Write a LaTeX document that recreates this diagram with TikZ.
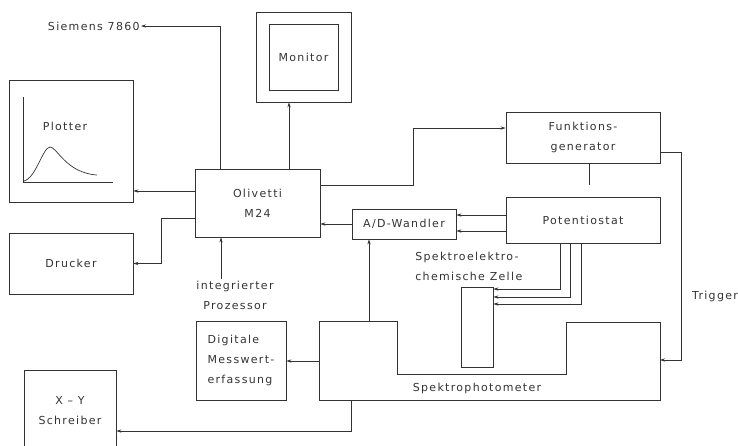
\documentclass[tikz,border=0pt]{standalone}
\usepackage{fontspec}
\setmainfont{DejaVu Sans}[LetterSpace=12]
\usetikzlibrary{arrows.meta}

\begin{document}
\begin{tikzpicture}[
  x=1pt, y=-1pt,
  line width=0.7pt, color=black!80,
  box/.style={draw, inner sep=0pt, align=center, font=\fontsize{11}{20}\selectfont},
  lbl/.style={inner sep=1pt, align=center, font=\fontsize{11}{20}\selectfont},
  >={Stealth[length=5pt,width=3.2pt]}
]
  \useasboundingbox (0,0) rectangle (738,445);

  % Rechner und Peripherie
  \node[box, minimum width=125pt, minimum height=68pt] (m24) at (257.5,203) {Olivetti\\M24};
  \node[box, minimum width=95pt, minimum height=90pt] (monitor) at (303.5,57) {};
  \node[box, minimum width=69pt, minimum height=66pt] (screen) at (303.5,57) {Monitor};
  \node[box, minimum width=124pt, minimum height=122pt] (plotter) at (71,141) {};
  \node[lbl] (plotlabel) at (65,126) {Plotter};
  \node[box, minimum width=124pt, minimum height=61pt] (drucker) at (71,263.5) {Drucker};
  \node[lbl, anchor=east] (siemens) at (141,26) {Siemens 7860};
  \node[lbl] (proz) at (235,295) {integrierter\\Prozessor};
  \node[box, minimum width=90pt, minimum height=79pt, align=left] (dmw) at (241,360.5) {Digitale\\Messwert-\\erfassung};
  \node[box, minimum width=92pt, minimum height=82pt] (xy) at (70,411) {X -- Y\\Schreiber};

  % Messaufbau
  \node[box, minimum width=154pt, minimum height=51pt] (fg) at (583,137.5) {Funktions-\\generator};
  \node[box, minimum width=154pt, minimum height=46pt] (pot) at (583,220) {Potentiostat};
  \node[box, minimum width=104pt, minimum height=30pt] (ad) at (404,224) {A/D-Wandler};
  \node[box, minimum width=32pt, minimum height=80pt] (cell) at (477,327) {};
  \node[lbl, anchor=west, align=left] (zelle) at (414,266) {Spektroelektro-\\chemische Zelle};
  \node[lbl] (trigger) at (715,296) {Trigger};

  % Spektrophotometer
  \draw (319,321) -- (397,321) -- (397,374) -- (566,374) -- (566,322)
        -- (660,322) -- (660,400) -- (319,400) -- cycle;
  \node[lbl] (spektro) at (477,388) {Spektrophotometer};
  \coordinate (sp-ad) at (369,321);
  \coordinate (sp-dm) at (319,361);
  \coordinate (sp-xy) at (351,400);
  \coordinate (sp-tr) at (660,360);

  % Plotterkurve
  \draw (23,97) -- (23,182) -- (113,182);
  \draw (24,181) .. controls (36,178) and (43,147) .. (50,147)
        .. controls (57,147) and (66,173) .. (97,175);

  % Verbindungen
  \draw[->] ([xshift=-37.5pt]m24.north) |- (siemens.east);
  \draw[->] ([xshift=31.5pt]m24.north) -- ([xshift=31.5pt]m24.north |- monitor.south);
  \draw[->] ([yshift=12pt]m24.west) -- ([yshift=12pt]m24.west -| plotter.east);
  \draw[->] ([yshift=-15pt]m24.west) -- ++(-33,0) |- (drucker.east);
  \draw[->] ([yshift=18pt]m24.east) -- ++(93,0) |- ([yshift=9.5pt]fg.west);
  \draw ([xshift=6pt]fg.south) -- ([xshift=6pt,yshift=12pt]pot.north);
  \draw[->] ([yshift=-14.5pt]fg.east) -- ++(21,0) |- (sp-tr);
  \draw[->] ([yshift=5pt]pot.west) -- ([yshift=5pt]pot.west -| ad.east);
  \draw[->] ([yshift=-11pt]pot.west) -- ([yshift=-11pt]pot.west -| ad.east);
  \draw[->] (ad.west) -- (ad.west -| m24.east);
  \draw[->] (sp-ad) -- (sp-ad |- ad.south);
  \draw[->] ([xshift=-36.5pt]m24.south |- proz.north) -- ([xshift=-36.5pt]m24.south);
  \draw[->] ([xshift=-23pt]pot.south) |- ([yshift=38pt]cell.east);
  \draw[->] ([xshift=-13pt]pot.south) |- ([yshift=30pt]cell.east);
  \draw[->] ([xshift=-2pt]pot.south) |- ([yshift=23pt]cell.east);
  \draw[->] (sp-dm) -- (sp-dm -| dmw.east);
  \draw[->] (sp-xy) |- ([yshift=-20pt]xy.east);
\end{tikzpicture}
\end{document}
